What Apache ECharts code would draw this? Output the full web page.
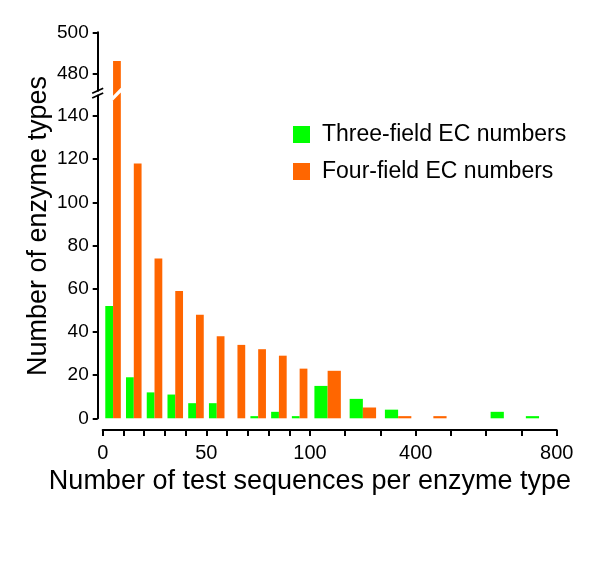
<!DOCTYPE html>
<html><head><meta charset="utf-8">
<script src="https://cdn.jsdelivr.net/npm/echarts@6/dist/echarts.min.js"></script>
<style>html,body{margin:0;padding:0;background:#fff}#c{width:600px;height:573px}</style>
</head><body><div id="c"></div>
<script>
const binEdges = [0,10,20,30,40,50,60,70,80,90,100,200,300,400,500,600,700,800];
const threeField = [52,19,12,11,7,7,0,1,3,1,15,9,4,0,0,3,1];
const fourField = [486,118,74,59,48,38,34,32,29,23,22,5,1,1,0,0,0];
const xTickLabels = [0,50,100,400,800];
const yLowTicks = [0,20,40,60,80,100,120,140];
const yHighTicks = [480,500];
const seriesNames = ['Three-field EC numbers','Four-field EC numbers'];
const colors = ['#00ff00','#ff6600'];

const FONT = '"Liberation Sans", Arial, sans-serif';
// piecewise display scale: linear to 100, compressed from 100 to 800
function toD(v){ return v <= 100 ? v : 100 + (v - 100) * 0.17; }
const X_MAX = toD(binEdges[binEdges.length - 1]);
const LOW_MAX = 149.5, HIGH_MIN = 471.5, HIGH_MAX = 500;

function binData(values){
  return values.map((v, i) => [toD(binEdges[i]), toD(binEdges[i + 1]), v]);
}

function makeRender(slot, part){
  return function(params, api){
    const x0 = api.value(0), x1 = api.value(1), v = api.value(2);
    const ymin = part === 'low' ? 0 : HIGH_MIN;
    const ymax = part === 'low' ? LOW_MAX : HIGH_MAX;
    if (!v || v <= ymin) return null;
    const w = x1 - x0, c = (x0 + x1) / 2, bw = w * 0.375;
    const xa = slot === 0 ? c - bw : c;
    const xb = slot === 0 ? c : c + bw;
    const top = Math.min(v, ymax);
    const pBL = api.coord([xa, ymin]);
    const pTR = api.coord([xb, top]);
    const s1 = 5, s2 = 3;
    let pts;
    if (part === 'low' && v > ymax) {
      pts = [[pBL[0], pBL[1]], [pTR[0], pBL[1]], [pTR[0], pTR[1] - s2], [pBL[0], pTR[1] + s1]];
    } else if (part === 'high') {
      pts = [[pBL[0], pBL[1] + s1], [pTR[0], pBL[1] - s2], [pTR[0], pTR[1]], [pBL[0], pTR[1]]];
    } else {
      return {type: 'rect', shape: {x: pBL[0], y: pTR[1], width: pTR[0] - pBL[0], height: pBL[1] - pTR[1]}, style: api.style()};
    }
    return {type: 'polygon', shape: {points: pts}, style: api.style()};
  };
}

const axisLineStyle = {color: '#000', width: 2};
const chart = echarts.init(document.getElementById('c'), null, {renderer: 'canvas'});

const option = {
  animation: false,
  backgroundColor: '#fff',
  grid: [
    {left: 102.7, right: 43.3, top: 32.3, height: 58.4},
    {left: 102.7, right: 43.3, top: 95.5, bottom: 154.7}
  ],
  xAxis: [
    {type: 'value', gridIndex: 0, min: 0, max: X_MAX, show: false},
    {type: 'value', gridIndex: 1, min: 0, max: X_MAX, offset: 11.7,
     axisLine: {show: true, onZero: false, lineStyle: axisLineStyle},
     axisTick: {show: true, length: 6, customValues: binEdges.map(toD), lineStyle: axisLineStyle},
     axisLabel: {customValues: xTickLabels.map(toD), fontSize: 20, color: '#000', fontFamily: FONT, margin: 13,
       formatter: function(d){ const l = xTickLabels.find(t => Math.abs(toD(t) - d) < 1e-6); return l === undefined ? '' : String(l); }},
     splitLine: {show: false}}
  ],
  yAxis: [
    {type: 'value', gridIndex: 0, min: HIGH_MIN, max: HIGH_MAX, offset: 5,
     axisLine: {show: true, onZero: false, lineStyle: axisLineStyle},
     axisTick: {show: true, length: 5, customValues: yHighTicks, lineStyle: axisLineStyle},
     axisLabel: {customValues: yHighTicks, fontSize: 19, color: '#000', fontFamily: FONT, margin: 9},
     splitLine: {show: false}},
    {type: 'value', gridIndex: 1, min: 0, max: LOW_MAX, offset: 5,
     axisLine: {show: true, onZero: false, lineStyle: axisLineStyle},
     axisTick: {show: true, length: 5, customValues: yLowTicks, lineStyle: axisLineStyle},
     axisLabel: {customValues: yLowTicks, fontSize: 19, color: '#000', fontFamily: FONT, margin: 9},
     splitLine: {show: false}}
  ],
  legend: {
    data: seriesNames, orient: 'vertical', left: 288, top: 118,
    icon: 'rect', itemWidth: 17, itemHeight: 17, itemGap: 14, selectedMode: false,
    textStyle: {fontSize: 23, fontFamily: FONT, color: '#000', lineHeight: 22, padding: [0, 0, 0, 7]}
  },
  series: [
    {name: seriesNames[0], type: 'custom', xAxisIndex: 1, yAxisIndex: 1, clip: false,
     itemStyle: {color: colors[0]}, renderItem: makeRender(0, 'low'), encode: {x: [0, 1], y: 2}, data: binData(threeField)},
    {name: seriesNames[1], type: 'custom', xAxisIndex: 1, yAxisIndex: 1, clip: false,
     itemStyle: {color: colors[1]}, renderItem: makeRender(1, 'low'), encode: {x: [0, 1], y: 2}, data: binData(fourField)},
    {name: seriesNames[1], type: 'custom', xAxisIndex: 0, yAxisIndex: 0, clip: false,
     itemStyle: {color: colors[1]}, renderItem: makeRender(1, 'high'), encode: {x: [0, 1], y: 2}, data: binData(fourField)}
  ],
  graphic: [
    {type: 'text', x: 39, y: 226, rotation: Math.PI / 2,
     style: {text: 'Number of enzyme types', fontSize: 27, fontFamily: FONT, fill: '#000', align: 'center', verticalAlign: 'middle'}},
    {type: 'text', x: 310, y: 482,
     style: {text: 'Number of test sequences per enzyme type', fontSize: 27, fontFamily: FONT, fill: '#000', align: 'center', verticalAlign: 'middle'}}
  ]
};
chart.setOption(option);

// axis-break slashes on the y axis, placed from the axes' own scales
const hiBot = chart.convertToPixel({xAxisIndex: 0, yAxisIndex: 0}, [0, HIGH_MIN]);
const loTop = chart.convertToPixel({xAxisIndex: 1, yAxisIndex: 1}, [0, LOW_MAX]);
const ax = hiBot[0] - 5;
function slash(y){
  return {type: 'line', shape: {x1: ax - 5.5, y1: y + 2.5, x2: ax + 5.5, y2: y - 2.5}, style: {stroke: '#000', lineWidth: 1.8}};
}
chart.setOption({graphic: option.graphic.concat([slash(hiBot[1]), slash(loTop[1])])});
</script></body></html>
